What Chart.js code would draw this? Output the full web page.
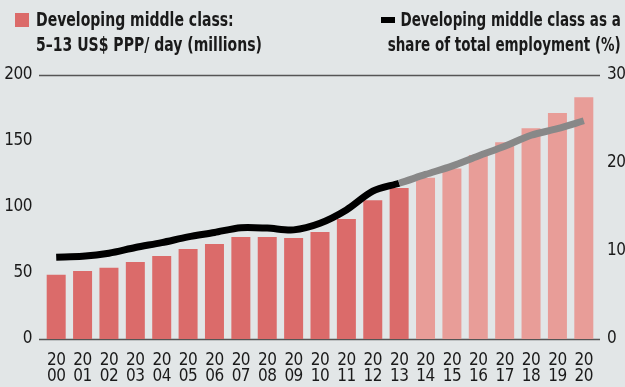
<!DOCTYPE html>
<html>
<head>
<meta charset="utf-8">
<script src="https://cdn.jsdelivr.net/npm/chart.js@4"></script>
<style>
  html, body { margin: 0; padding: 0; background: #e2e6e7; }
  .wrap { position: relative; width: 625px; height: 387px; }
  canvas { position: absolute; left: 0; top: 0; }
  .legend { position: absolute; font-family: "DejaVu Sans Condensed", "DejaVu Sans", sans-serif;
            font-weight: bold; font-size: 20px; line-height: 25px; color: #1a1a1a; white-space: nowrap; }
  .legend.left { left: 36px; top: 7px; transform: scaleX(0.78); transform-origin: left top; }
  .legend.right { right: 4px; top: 7px; text-align: right; transform: scaleX(0.75); transform-origin: right top; }
  .key-bar { position: absolute; left: 15px; top: 13px; width: 14px; height: 14px; background: #db6b6a; }
  .key-line { position: absolute; left: 381px; top: 17px; width: 14px; height: 6px; background: #000; }
</style>
</head>
<body>
<div class="wrap">
  <canvas id="mc-chart" width="625" height="387"></canvas>
  <div class="key-bar"></div>
  <div class="legend left">Developing middle class:<br>5–13 US$ PPP/ day (millions)</div>
  <div class="key-line"></div>
  <div class="legend right">Developing middle class as a<br>share of total employment (%)</div>
</div>
<script>
// --Developing middle class chart-- //

const years = ['2000', '2001', '2002', '2003', '2004', '2005', '2006', '2007', '2008', '2009', '2010',
               '2011', '2012', '2013', '2014', '2015', '2016', '2017', '2018', '2019', '2020'];
// millions of people, 5-13 US$ PPP per day
const middleClass = [48.6, 51.6, 53.9, 58.4, 62.9, 68.2, 72, 77.3, 77.3, 76.6, 81.1,
                     91, 105.2, 114.4, 122.2, 129.2, 139.3, 149.1, 159.7, 171.3, 183.1];
// share of total employment, %
const employmentShare = [9.3, 9.4, 9.75, 10.4, 10.95, 11.6, 12.1, 12.65, 12.6, 12.4, 13.15,
                         14.66, 16.8, 17.7, 18.7, 19.65, 20.8, 21.9, 23.15, 23.9, 24.8];
const firstProjected = 14; // 2014 onwards are projections
const leftTicks = [0, 50, 100, 150, 200];
const rightTicks = [0, 10, 20, 30];

const fontFamily = '"DejaVu Sans Condensed", "DejaVu Sans", sans-serif';

const barColors = years.map((y, i) => i < firstProjected ? '#db6b6a' : '#e89d98');

// rules at 0 and 200, running a little past the bars on both sides
const edgeRules = {
  id: 'edgeRules',
  beforeDraw(chart) {
    const ctx = chart.ctx;
    const y = chart.scales.people;
    ctx.letterSpacing = '-0.5px';
    ctx.save();
    ctx.strokeStyle = '#555';
    ctx.lineWidth = 1.5;
    [0, 200].forEach(v => {
      const py = Math.round(y.getPixelForValue(v)) + 0.5;
      ctx.beginPath();
      ctx.moveTo(39, py);
      ctx.lineTo(600, py);
      ctx.stroke();
    });
    ctx.restore();
  }
};

const mcCanvas = document.getElementById('mc-chart');

const mcChart = new Chart(mcCanvas, {
  data: {
    labels: years.map(y => [y.slice(0, 2), y.slice(2)]),
    datasets: [{
      type: 'line',
      data: employmentShare,
      yAxisID: 'share',
      borderColor: '#000',
      borderWidth: 7,
      borderCapStyle: 'butt',
      tension: 0.3,
      pointRadius: 0,
      order: 0,
      segment: {
        borderColor: ctx => ctx.p0DataIndex >= firstProjected - 1 ? '#888888' : '#000'
      }
    }, {
      type: 'bar',
      data: middleClass,
      yAxisID: 'people',
      backgroundColor: barColors,
      barPercentage: 0.72,
      categoryPercentage: 1,
      order: 1
    }]
  },
  options: {
    responsive: false,
    animation: { duration: 0 },
    layout: { padding: { top: 75, right: 0, left: 0, bottom: 0 } },
    plugins: {
      legend: { display: false },
      tooltip: { enabled: false }
    },
    scales: {
      x: {
        grid: { display: false, drawTicks: false },
        border: { display: false },
        ticks: {
          color: '#1a1a1a',
          font: { family: fontFamily, size: 17, lineHeight: 0.92 },
          padding: 14,
          maxRotation: 0,
          autoSkip: false
        },
        afterFit: axis => { axis.height = 48; }
      },
      people: {
        position: 'left',
        min: 0,
        max: 200,
        afterBuildTicks: axis => { axis.ticks = leftTicks.map(v => ({ value: v })); },
        grid: { display: false, drawTicks: false },
        border: { display: false },
        ticks: {
          color: '#1a1a1a',
          font: { family: fontFamily, size: 17 },
          padding: 11
        },
        afterFit: axis => { axis.width = 43; }
      },
      share: {
        position: 'right',
        min: 0,
        max: 30,
        afterBuildTicks: axis => { axis.ticks = rightTicks.map(v => ({ value: v })); },
        grid: { display: false, drawTicks: false },
        border: { display: false },
        ticks: {
          color: '#1a1a1a',
          font: { family: fontFamily, size: 17 },
          padding: 10
        },
        afterFit: axis => { axis.width = 28; }
      }
    }
  },
  plugins: [edgeRules]
});
</script>
</body>
</html>
